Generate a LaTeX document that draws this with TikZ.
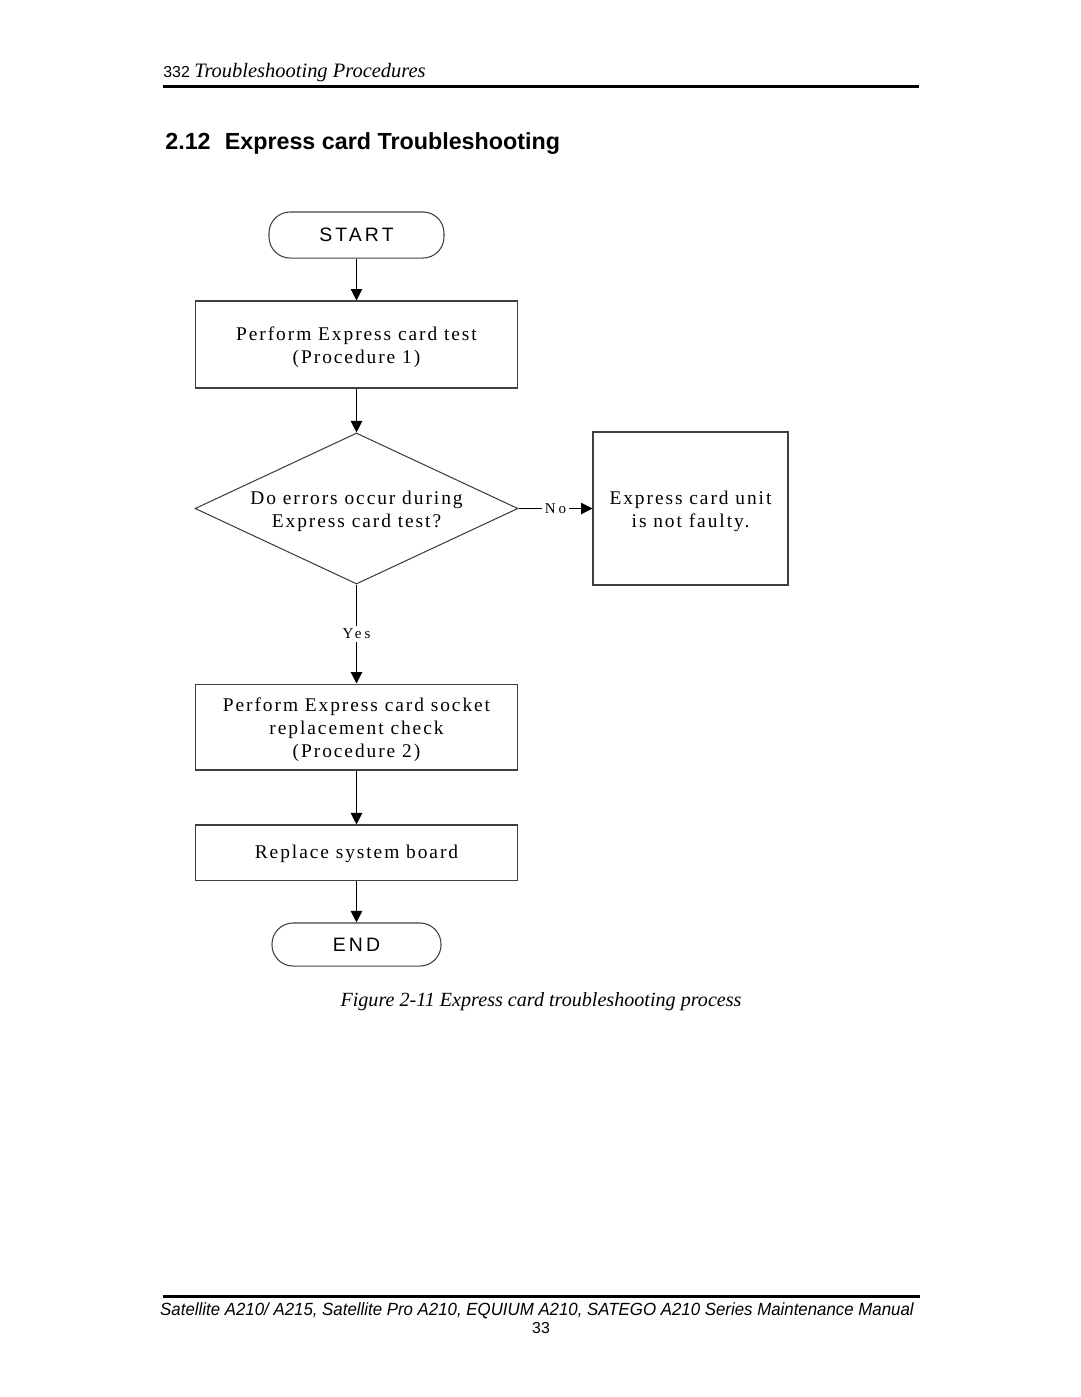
\documentclass[tikz,border=0pt]{standalone}
\usepackage{fontspec}
\usepackage{graphicx}
\setmainfont{Liberation Serif}
\setsansfont{Liberation Sans}
\newfontfamily\boxfont[LetterSpace=10]{Liberation Serif}
\newfontfamily\lblfont[LetterSpace=20]{Liberation Serif}
\newfontfamily\termfont[LetterSpace=16]{Liberation Sans}
\newcommand\firstline{\rule{0pt}{11pt}}
\usetikzlibrary{shapes.geometric,arrows.meta}
\begin{document}
\begin{tikzpicture}[x=0.5667pt,y=-0.5667pt,
  box/.style={draw=black!75,line width=0.6pt,minimum width=183pt,inner sep=0pt,align=center,font=\fontsize{11}{13}\boxfont},
  term/.style={draw=black!75,line width=0.6pt,rounded corners=12pt,inner sep=0pt,font=\fontsize{11}{13}\termfont},
  dec/.style={draw=black!75,line width=0.6pt,diamond,aspect=2.14,minimum width=183pt,minimum height=85.6pt,inner sep=0pt,align=center,font=\fontsize{11}{13}\boxfont},
  conn/.style={line width=0.6pt,-{Triangle[length=6.5pt,width=6.5pt]}},
  lbl/.style={fill=white,inner sep=1.5pt,font=\fontsize{8.5}{10}\lblfont},
  txt/.style={inner sep=0pt},
  rule/.style={line width=1.7pt}
]
\useasboundingbox (0,0) rectangle (1080,1397);
% header
\node[txt,anchor=base west] (hdr) at (163,77) {{\fontsize{9}{11}\sffamily 332} {\fontsize{11.6}{13}\itshape Troubleshooting Procedures}};
\coordinate (hl) at (163,86);
\coordinate (hr) at (919,86);
\draw[rule] (hl) -- (hr);
\node[txt,anchor=base west] (title) at (165,149) {\fontsize{13.2}{15}\sffamily\bfseries 2.12\hspace{8pt}Express card Troubleshooting};
% flowchart
\node[term,minimum width=99.2pt,minimum height=26.1pt] (start) at (356.5,235) {START};
\node[box,minimum height=49.3pt] (b1) at (356.5,344.5) {\firstline Perform Express card test\\(Procedure 1)};
\node[dec] (dec) at (356.5,508.5) {\firstline Do errors occur during\\Express card test?};
\node[box,minimum width=110.5pt,minimum height=86.7pt] (nf) at (690.5,508.5) {\firstline Express card unit\\is not faulty.};
\node[box,minimum height=48.7pt] (b2) at (356.5,727) {\firstline Perform Express card socket\\replacement check\\(Procedure 2)};
\node[box,minimum height=31.2pt] (b3) at (356.5,852.5) {\rule{0pt}{9pt}Replace system board};
\node[term,minimum width=95.8pt,minimum height=24.4pt] (stop) at (356.5,944.5) {END};
\draw[conn] (start) -- (b1);
\draw[conn] (b1) -- (dec);
\draw[conn] (dec) -- node[lbl] {No} (nf);
\draw[conn] (dec) -- node[lbl] {Yes} (b2);
\draw[conn] (b2) -- (b3);
\draw[conn] (b3) -- (stop);
% caption
\node[txt,anchor=base] (cap) at (541,1006) {\fontsize{11.4}{13}\itshape Figure 2-11 Express card troubleshooting process};
% footer
\coordinate (fl) at (163,1296);
\coordinate (fr) at (920,1296);
\draw[rule] (fl) -- (fr);
\node[txt,anchor=base] (foot) at (537,1315) {\resizebox{427pt}{\height}{\fontsize{10}{12}\sffamily\itshape Satellite A210/ A215, Satellite Pro A210, EQUIUM A210, SATEGO A210 Series Maintenance Manual}};
\node[txt,anchor=base] (pg) at (541,1333) {\fontsize{9}{11}\sffamily 33};
\end{tikzpicture}
\end{document}
